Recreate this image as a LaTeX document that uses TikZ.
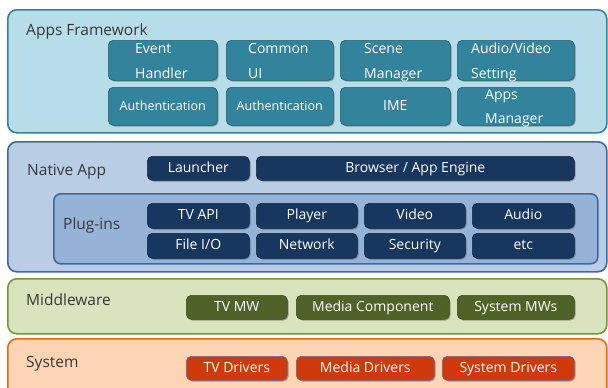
\documentclass[tikz,border=0pt]{standalone}
\usepackage{fontspec}
\setmainfont{Open Sans}
\usetikzlibrary{shadows}
\definecolor{afFill}{HTML}{B7DDE8}
\definecolor{afLine}{HTML}{31859C}
\definecolor{afBox}{HTML}{31849B}
\definecolor{afBoxLine}{HTML}{245E6E}
\definecolor{naFill}{HTML}{B9CDE5}
\definecolor{naLine}{HTML}{41689A}
\definecolor{plugFill}{HTML}{95B3D7}
\definecolor{naBox}{HTML}{17375E}
\definecolor{naBoxLine}{HTML}{10263F}
\definecolor{mwFill}{HTML}{D7E4BD}
\definecolor{mwLine}{HTML}{77933C}
\definecolor{mwBox}{HTML}{4F6228}
\definecolor{mwBoxLine}{HTML}{3A4A1C}
\definecolor{sysFill}{HTML}{FCD5B5}
\definecolor{sysLine}{HTML}{E46C0A}
\definecolor{sysBox}{HTML}{D03A0A}
\definecolor{sysBoxLine}{HTML}{7A5A8A}
\definecolor{lblGray}{HTML}{383838}
\begin{document}
\begin{tikzpicture}[x=1pt,y=-1pt,
  band/.style={rounded corners=9pt, line width=1.6pt, anchor=north west, inner sep=0pt},
  lbl/.style={anchor=base west, inner sep=0pt, text=lblGray, font=\fontsize{15.5}{18}\selectfont},
  box/.style={rounded corners=5pt, anchor=north west, inner sep=0pt, line width=0.6pt,
    text=white, font=\fontsize{14}{16}\selectfont, text height=10.5pt, text depth=3pt,
    drop shadow={shadow xshift=1.2pt, shadow yshift=-1.2pt, opacity=0.3, fill=black}},
  afbox/.style={box, fill=afBox, draw=afBoxLine},
  nabox/.style={box, fill=naBox, draw=naBoxLine},
  mwbox/.style={box, fill=mwBox, draw=mwBoxLine},
  sysbox/.style={box, fill=sysBox, draw=sysBoxLine},
  wtxt/.style={anchor=base west, inner sep=0pt, text=white, font=\fontsize{14}{16}\selectfont}
]
\useasboundingbox (0,0) rectangle (608,388);
\fill[white] (0,0) rectangle (608,388);

% Apps Framework
\node[band, fill=afFill, draw=afLine, minimum width=599pt, minimum height=123pt] (af) at (7,9) {};
\node[lbl] (afl) at (26,35) {Apps Framework};
\node[afbox, minimum width=109pt, minimum height=40pt] (eh) at (108,40) {};
\node[afbox, minimum width=107pt, minimum height=40pt] (cu) at (226,40) {};
\node[afbox, minimum width=110pt, minimum height=40pt] (sm) at (340,40) {};
\node[afbox, minimum width=117pt, minimum height=40pt] (av) at (457,40) {};
\node[wtxt] (eh1) at (135,53) {Event};
\node[wtxt] (eh2) at (135,78) {Handler};
\node[wtxt] (cu1) at (248,53) {Common};
\node[wtxt] (cu2) at (248,78) {UI};
\node[wtxt] (sm1) at (364,53) {Scene};
\node[wtxt] (sm2) at (364,78) {Manager};
\node[wtxt] (av1) at (471,53) {Audio/Video};
\node[wtxt] (av2) at (471,78) {Setting};
\node[afbox, minimum width=109pt, minimum height=38pt, font=\fontsize{12.6}{15}\selectfont] (au1) at (108,87) {Authentication};
\node[afbox, minimum width=107pt, minimum height=38pt, font=\fontsize{12.6}{15}\selectfont] (au2) at (226,87) {Authentication};
\node[afbox, minimum width=110pt, minimum height=38pt] (ime) at (340,87) {IME};
\node[afbox, minimum width=117pt, minimum height=38pt] (am) at (457,87) {};
\node[wtxt] (am1) at (485,99) {Apps};
\node[wtxt] (am2) at (485,123) {Manager};

% Native App
\node[band, fill=naFill, draw=naLine, minimum width=599pt, minimum height=130pt] (na) at (7,141) {};
\node[lbl] (nal) at (27,175) {Native App};
\node[nabox, minimum width=102pt, minimum height=24pt] (la) at (147,156) {Launcher};
\node[nabox, minimum width=318pt, minimum height=24pt] (br) at (256,156) {Browser / App Engine};
\node[band, fill=plugFill, draw=naLine, minimum width=544pt, minimum height=70pt, rounded corners=7pt] (pl) at (53,193) {};
\node[lbl] (pll) at (63,229) {Plug-ins};
\node[nabox, minimum width=102pt, minimum height=25pt] (tv) at (147,203) {TV API};
\node[nabox, minimum width=101pt, minimum height=25pt] (pa) at (256,203) {Player};
\node[nabox, minimum width=101pt, minimum height=25pt] (vi) at (364,203) {Video};
\node[nabox, minimum width=102pt, minimum height=25pt] (ad) at (472,203) {Audio};
\node[nabox, minimum width=102pt, minimum height=25pt] (fi) at (147,233) {File I/O};
\node[nabox, minimum width=101pt, minimum height=25pt] (nw) at (256,233) {Network};
\node[nabox, minimum width=101pt, minimum height=25pt] (se) at (364,233) {Security};
\node[nabox, minimum width=102pt, minimum height=25pt] (etc) at (472,233) {etc};

% Middleware
\node[band, fill=mwFill, draw=mwLine, minimum width=599pt, minimum height=55pt] (mw) at (7,278) {};
\node[lbl] (mwl) at (26,305) {Middleware};
\node[mwbox, minimum width=101pt, minimum height=24pt] (tvmw) at (186,295) {TV MW};
\node[mwbox, minimum width=153pt, minimum height=24pt] (mc) at (296,295) {Media Component};
\node[mwbox, minimum width=117pt, minimum height=24pt] (smw) at (457,295) {System MWs};

% System
\node[band, fill=sysFill, draw=sysLine, minimum width=599pt, minimum height=70pt] (sys) at (7,338) {};
\node[lbl] (sysl) at (26,367) {System};
\node[sysbox, minimum width=101pt, minimum height=24pt] (tvd) at (186,356) {TV Drivers};
\node[sysbox, minimum width=138pt, minimum height=24pt] (md) at (296,356) {Media Drivers};
\node[sysbox, minimum width=132pt, minimum height=24pt] (sd) at (442,356) {System Drivers};
\end{tikzpicture}
\end{document}
